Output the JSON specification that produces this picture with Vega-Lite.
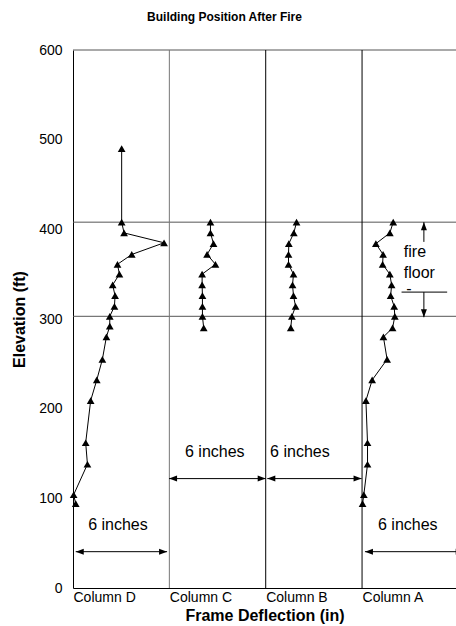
{
  "$schema": "https://vega.github.io/schema/vega-lite/v6.json",
  "width": 383,
  "height": 538,
  "autosize": {"type": "none"},
  "padding": {"left": 73, "top": 50, "right": 0, "bottom": 38},
  "background": "white",
  "config": {"view": {"stroke": null}, "font": "Liberation Sans"},
  "title": {"text": "Building Position After Fire", "fontSize": 12, "fontWeight": "bold", "font": "Liberation Sans", "color": "black", "anchor": "middle", "frame": "group", "dx": -40, "offset": 7, "baseline": "bottom"},
  "datasets": {
    "pts": [
      {"col": "D", "x": 3.03, "y": 490}, {"col": "D", "x": 3.03, "y": 408}, {"col": "D", "x": 3.18, "y": 396}, {"col": "D", "x": 5.67, "y": 385}, {"col": "D", "x": 3.66, "y": 372}, {"col": "D", "x": 2.77, "y": 361}, {"col": "D", "x": 2.89, "y": 350}, {"col": "D", "x": 2.47, "y": 338}, {"col": "D", "x": 2.62, "y": 326}, {"col": "D", "x": 2.58, "y": 314}, {"col": "D", "x": 2.29, "y": 303}, {"col": "D", "x": 2.29, "y": 292}, {"col": "D", "x": 2.08, "y": 280}, {"col": "D", "x": 1.83, "y": 255}, {"col": "D", "x": 1.48, "y": 232}, {"col": "D", "x": 1.10, "y": 209}, {"col": "D", "x": 0.79, "y": 162}, {"col": "D", "x": 0.90, "y": 138}, {"col": "D", "x": 0.04, "y": 104}, {"col": "D", "x": 0.17, "y": 94},
      {"col": "C", "x": 8.56, "y": 408}, {"col": "C", "x": 8.56, "y": 396}, {"col": "C", "x": 8.75, "y": 384}, {"col": "C", "x": 8.35, "y": 372}, {"col": "C", "x": 8.87, "y": 361}, {"col": "C", "x": 8.04, "y": 350}, {"col": "C", "x": 8.04, "y": 338}, {"col": "C", "x": 8.06, "y": 326}, {"col": "C", "x": 8.06, "y": 314}, {"col": "C", "x": 8.06, "y": 303}, {"col": "C", "x": 8.14, "y": 290},
      {"col": "B", "x": 13.92, "y": 408}, {"col": "B", "x": 13.75, "y": 396}, {"col": "B", "x": 13.44, "y": 384}, {"col": "B", "x": 13.42, "y": 372}, {"col": "B", "x": 13.42, "y": 361}, {"col": "B", "x": 13.73, "y": 350}, {"col": "B", "x": 13.67, "y": 338}, {"col": "B", "x": 13.73, "y": 326}, {"col": "B", "x": 13.86, "y": 314}, {"col": "B", "x": 13.63, "y": 303}, {"col": "B", "x": 13.56, "y": 290},
      {"col": "A", "x": 19.94, "y": 408}, {"col": "A", "x": 19.73, "y": 396}, {"col": "A", "x": 18.86, "y": 384}, {"col": "A", "x": 19.31, "y": 372}, {"col": "A", "x": 19.28, "y": 361}, {"col": "A", "x": 19.73, "y": 350}, {"col": "A", "x": 19.84, "y": 338}, {"col": "A", "x": 19.78, "y": 326}, {"col": "A", "x": 20.0, "y": 314}, {"col": "A", "x": 20.04, "y": 303}, {"col": "A", "x": 19.90, "y": 290}, {"col": "A", "x": 19.33, "y": 280}, {"col": "A", "x": 19.56, "y": 255}, {"col": "A", "x": 18.63, "y": 232}, {"col": "A", "x": 18.24, "y": 209}, {"col": "A", "x": 18.34, "y": 162}, {"col": "A", "x": 18.34, "y": 138}, {"col": "A", "x": 18.11, "y": 104}, {"col": "A", "x": 18.03, "y": 94}
    ],
    "hlines": [{"y": 303}, {"y": 408}, {"y": 600}],
    "vlines": [{"x": 6, "c": "C"}, {"x": 12, "c": "B"}, {"x": 18, "c": "A"}],
    "segs": [
      {"x": 0.17, "x2": 5.86, "y": 40.5, "y2": 40.5},
      {"x": 5.98, "x2": 12.0, "y": 122, "y2": 122},
      {"x": 12.1, "x2": 17.97, "y": 122, "y2": 122},
      {"x": 18.18, "x2": 23.85, "y": 40.5, "y2": 40.5},
      {"x": 21.85, "x2": 21.85, "y": 386, "y2": 408},
      {"x": 21.85, "x2": 21.85, "y": 330, "y2": 302},
      {"x": 20.46, "x2": 23.3, "y": 330, "y2": 330}
    ],
    "heads": [
      {"x": 0.42, "y": 40.5, "dir": "left"}, {"x": 5.61, "y": 40.5, "dir": "right"},
      {"x": 6.23, "y": 122, "dir": "left"}, {"x": 11.75, "y": 122, "dir": "right"},
      {"x": 12.35, "y": 122, "dir": "left"}, {"x": 17.72, "y": 122, "dir": "right"},
      {"x": 18.43, "y": 40.5, "dir": "left"}, {"x": 24.08, "y": 40.5, "dir": "right"},
      {"x": 21.85, "y": 403.5, "dir": "up"}, {"x": 21.85, "y": 306.5, "dir": "down"}
    ],
    "ctext": [
      {"x": 2.80, "y": 70, "t": "6 inches"}, {"x": 8.83, "y": 152, "t": "6 inches"},
      {"x": 14.13, "y": 152, "t": "6 inches"}, {"x": 20.85, "y": 70, "t": "6 inches"}
    ],
    "ltext": [
      {"x": 20.6, "y": 375, "t": "fire"}, {"x": 20.6, "y": 351, "t": "floor"}, {"x": 20.75, "y": 333, "t": "-"}
    ]
  },
  "layer": [
    {
      "data": {"name": "pts"},
      "mark": {"type": "line", "color": "black", "strokeWidth": 1},
      "encoding": {
        "x": {"field": "x", "type": "quantitative", "scale": {"domain": [0, 23.85], "nice": false, "zero": false},
          "axis": {"values": [0, 6, 12, 18], "labelExpr": "datum.value == 0 ? 'Column D' : datum.value == 6 ? 'Column C' : datum.value == 12 ? 'Column B' : 'Column A'", "ticks": false, "grid": false, "domainColor": "black", "domainWidth": 1, "labelAlign": "left", "labelDx": -9, "labelBaseline": "top", "labelPadding": 2, "labelFontSize": 14, "labelFont": "Liberation Sans", "labelColor": "black", "labelOverlap": false, "labelFlush": false, "labelBound": false, "title": "Frame Deflection (in)", "titleFont": "Liberation Sans", "titleFontSize": 16, "titleFontWeight": "bold", "titleColor": "black", "titlePadding": 3}},
        "y": {"field": "y", "type": "quantitative", "scale": {"domain": [0, 600], "nice": false, "zero": false},
          "axis": {"values": [0, 100, 200, 300, 400, 500, 600], "ticks": false, "grid": false, "domainColor": "black", "domainWidth": 1, "labelPadding": 11, "labelFontSize": 14, "labelFont": "Liberation Sans", "labelColor": "black", "labelOverlap": false, "labelFlush": false, "labelBound": false, "title": "Elevation (ft)", "titleFont": "Liberation Sans", "titleFontSize": 16, "titleFontWeight": "bold", "titleColor": "black", "titlePadding": 11}},
        "detail": {"field": "col"},
        "order": {"field": "y", "type": "quantitative"}
      }
    },
    {
      "data": {"name": "hlines"},
      "mark": {"type": "rule", "color": "#555", "strokeWidth": 1},
      "encoding": {"y": {"field": "y", "type": "quantitative", "scale": {"domain": [0, 600], "nice": false, "zero": false}}}
    },
    {
      "data": {"name": "vlines"},
      "mark": {"type": "rule", "strokeWidth": 1},
      "encoding": {
        "x": {"field": "x", "type": "quantitative", "scale": {"domain": [0, 23.85], "nice": false, "zero": false}},
        "color": {"field": "c", "type": "nominal", "scale": {"domain": ["C", "B", "A"], "range": ["#777", "#000", "#000"]}, "legend": null}
      }
    },
    {
      "data": {"name": "segs"},
      "mark": {"type": "rule", "color": "black", "strokeWidth": 1},
      "encoding": {
        "x": {"field": "x", "type": "quantitative", "scale": {"domain": [0, 23.85], "nice": false, "zero": false}},
        "x2": {"field": "x2"},
        "y": {"field": "y", "type": "quantitative", "scale": {"domain": [0, 600], "nice": false, "zero": false}},
        "y2": {"field": "y2"}
      }
    },
    {
      "data": {"name": "heads"},
      "mark": {"type": "point", "filled": true, "color": "black", "opacity": 1, "size": 64, "strokeWidth": 0},
      "encoding": {
        "x": {"field": "x", "type": "quantitative", "scale": {"domain": [0, 23.85], "nice": false, "zero": false}},
        "y": {"field": "y", "type": "quantitative", "scale": {"domain": [0, 600], "nice": false, "zero": false}},
        "shape": {"field": "dir", "type": "nominal", "scale": {"domain": ["left", "right", "up", "down"], "range": ["M-1,0L1,-0.75L1,0.75Z", "M1,0L-1,-0.75L-1,0.75Z", "M0,-1L-0.75,1L0.75,1Z", "M0,1L-0.75,-1L0.75,-1Z"]}, "legend": null}
      }
    },
    {
      "data": {"name": "pts"},
      "mark": {"type": "point", "shape": "triangle-up", "filled": true, "color": "black", "opacity": 1, "size": 60, "strokeWidth": 0},
      "encoding": {
        "x": {"field": "x", "type": "quantitative", "scale": {"domain": [0, 23.85], "nice": false, "zero": false}},
        "y": {"field": "y", "type": "quantitative", "scale": {"domain": [0, 600], "nice": false, "zero": false}}
      }
    },
    {
      "data": {"name": "ctext"},
      "mark": {"type": "text", "font": "Liberation Sans", "fontSize": 16, "color": "black", "align": "center", "baseline": "middle"},
      "encoding": {
        "x": {"field": "x", "type": "quantitative", "scale": {"domain": [0, 23.85], "nice": false, "zero": false}},
        "y": {"field": "y", "type": "quantitative", "scale": {"domain": [0, 600], "nice": false, "zero": false}},
        "text": {"field": "t"}
      }
    },
    {
      "data": {"name": "ltext"},
      "mark": {"type": "text", "font": "Liberation Sans", "fontSize": 16, "color": "black", "align": "left", "baseline": "middle"},
      "encoding": {
        "x": {"field": "x", "type": "quantitative", "scale": {"domain": [0, 23.85], "nice": false, "zero": false}},
        "y": {"field": "y", "type": "quantitative", "scale": {"domain": [0, 600], "nice": false, "zero": false}},
        "text": {"field": "t"}
      }
    }
  ]
}
